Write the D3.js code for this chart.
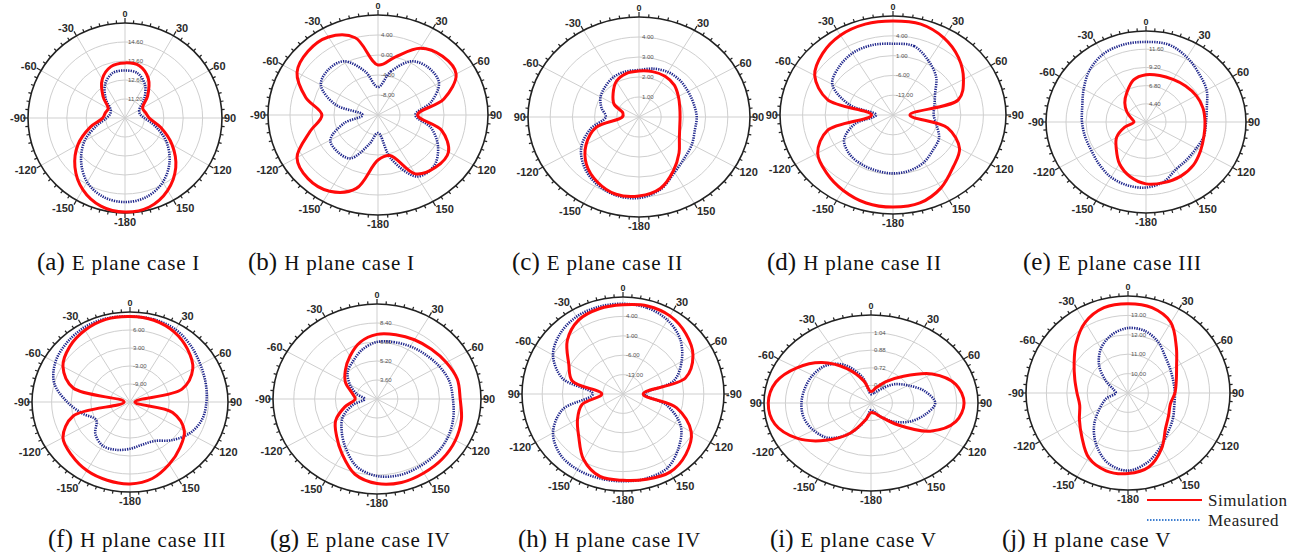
<!DOCTYPE html>
<html>
<head>
<meta charset="utf-8">
<script src="https://cdn.jsdelivr.net/npm/d3@7"></script>
<style>
  body { margin: 0; background: #fff; }
  .angle { font-family: "Liberation Sans", Arial, sans-serif; font-size: 11px; font-weight: bold; fill: #2a2a2a; }
  .ring { font-family: "Liberation Sans", Arial, sans-serif; font-size: 6px; fill: #555; }
  .caption { font-family: "Liberation Serif", "Times New Roman", serif; fill: #111; }
  .legend { font-family: "Liberation Serif", "Times New Roman", serif; font-size: 17px; letter-spacing: 0.5px; fill: #222; }
</style>
</head>
<body>
<div id="graphic"></div>
<script>
// angles of the samples, 0 at top, clockwise, every 15 deg
const angles = d3.range(0, 360, 15);

// normalised gain (fraction of outer ring)
const simA  = [.58,.57,.48,.33,.21,.22,.25,.38,.56,.74,.88,.97,.99,.96,.87,.73,.56,.37,.23,.21,.2,.32,.47,.56];
const measA = [.50,.49,.41,.28,.17,.16,.2,.32,.49,.65,.78,.86,.885,.86,.78,.64,.48,.3,.19,.16,.17,.28,.41,.49];
const simB  = [.5,.6,.77,.83,.82,.62,.36,.6,.74,.74,.68,.42,.45,.76,.88,.9,.85,.64,.51,.68,.85,.9,.9,.8];
const measB = [.28,.45,.62,.66,.64,.5,.34,.5,.63,.72,.71,.45,.18,.3,.5,.52,.5,.32,.14,.4,.6,.64,.62,.45];
const simC  = [.46,.47,.47,.45,.41,.38,.37,.38,.42,.51,.62,.74,.79,.8,.75,.67,.55,.4,.15,.15,.26,.33,.41,.45];
const measC = [.47,.5,.52,.52,.51,.51,.52,.52,.55,.58,.64,.75,.81,.81,.77,.7,.6,.45,.3,.35,.4,.43,.46,.47];
const simD  = [.95,.95,.9,.82,.72,.6,.15,.5,.68,.75,.85,.92,.93,.92,.88,.83,.77,.6,.19,.6,.8,.88,.93,.95];
const measD = [.72,.72,.63,.54,.43,.38,.36,.4,.47,.5,.55,.58,.59,.58,.57,.55,.5,.35,.15,.4,.62,.68,.72,.73];
const simE  = [.52,.53,.54,.56,.58,.59,.59,.6,.63,.67,.69,.69,.68,.62,.53,.42,.34,.22,.12,.15,.22,.3,.38,.48];
const measE = [.88,.88,.82,.75,.7,.63,.6,.6,.58,.58,.6,.68,.72,.72,.7,.66,.63,.63,.64,.66,.72,.8,.86,.88];
const simF  = [.95,.94,.9,.83,.74,.55,.05,.45,.64,.72,.8,.88,.91,.9,.88,.84,.79,.6,.06,.6,.79,.87,.92,.95];
const measF = [.95,.95,.93,.88,.83,.8,.78,.76,.7,.6,.5,.49,.52,.55,.56,.5,.4,.5,.64,.8,.88,.92,.95,.96];
const simG  = [.68,.7,.72,.74,.77,.8,.8,.84,.87,.89,.9,.91,.89,.82,.67,.55,.46,.32,.21,.25,.35,.43,.52,.62];
const measG = [.6,.62,.64,.66,.69,.72,.73,.76,.79,.81,.82,.83,.81,.74,.6,.48,.38,.24,.12,.2,.3,.4,.46,.54];
const simH  = [.92,.94,.93,.88,.8,.64,.2,.55,.78,.88,.93,.91,.89,.88,.78,.62,.52,.42,.21,.52,.62,.78,.88,.91];
const measH = [.93,.92,.88,.8,.67,.52,.22,.45,.66,.78,.88,.9,.9,.9,.9,.88,.8,.62,.3,.62,.8,.88,.92,.93];
const simI  = [.13,.18,.28,.43,.66,.82,.87,.82,.64,.35,.18,.12,.11,.2,.4,.6,.8,.93,.96,.92,.8,.65,.45,.26];
const measI = [.1,.12,.18,.3,.4,.52,.6,.52,.42,.3,.18,.1,.08,.2,.4,.56,.62,.65,.65,.64,.63,.6,.5,.3];
const simJ  = [.92,.91,.84,.67,.55,.49,.46,.43,.46,.52,.66,.79,.83,.83,.77,.64,.55,.49,.5,.54,.61,.72,.84,.91];
const measJ = [.67,.66,.6,.52,.48,.46,.46,.47,.51,.56,.64,.74,.8,.75,.62,.47,.32,.22,.12,.15,.25,.4,.53,.62];

// ring tick labels, outer ring first
const ringA = ["14.60","13.60","12.60","11.20"];
const ringB = ["4.00","0.00","-4.00","-8.00"];
const ringC = ["4.00","3.00","2.00","1.00"];
const ringD = ["4.00","1.00","-6.00","-13.00"];
const ringE = ["11.60","9.20","6.80","4.40"];
const ringF = ["6.00","3.00","-3.00","-9.00"];
const ringG = ["8.40","6.80","5.20","3.60"];
const ringH = ["4.00","1.00","-6.00","-13.00"];
const ringI = ["1.04","0.88","0.72","0.56"];
const ringJ = ["13.00","12.00","11.00","10.00"];

const captionLetters = ["(a)","(b)","(c)","(d)","(e)","(f)","(g)","(h)","(i)","(j)"];
const captionTexts = ["E plane case I","H plane case I","E plane case II","H plane case II","E plane case III",
  "H plane case III","E plane case IV","H plane case IV","E plane case V","H plane case V"];

const angleTicks = d3.range(0, 360, 30);
const ringSteps = [0.8, 0.6, 0.4, 0.2];
// side labels of the 90 deg axis, per panel (left, right)
const leftNinety  = ["-90","-90","90","90","-90","-90","-90","90","90","-90"];
const rightNinety = ["90","90","90","-90","90","90","90","-90","90","90"];

/** LAYOUT */
const width = 1299, height = 552;
// centre and radii of each panel on the page
const layout = [
  { cx: 125,  cy: 118, rx: 97,  ry: 95 },
  { cx: 378,  cy: 115, rx: 110, ry: 100 },
  { cx: 639,  cy: 117, rx: 111, ry: 100 },
  { cx: 893,  cy: 115, rx: 113, ry: 99 },
  { cx: 1146, cy: 122, rx: 100, ry: 91 },
  { cx: 130,  cy: 402, rx: 98,  ry: 90 },
  { cx: 377,  cy: 399, rx: 104, ry: 95 },
  { cx: 623,  cy: 394, rx: 101, ry: 97 },
  { cx: 871,  cy: 403, rx: 107, ry: 88 },
  { cx: 1128, cy: 393, rx: 102, ry: 97 }
];
const captionPos = [[37,270],[248,270],[512,270],[767,270],[1023,270],
  [48,547],[270,547],[518,547],[770,547],[1002,547]];

const sims = [simA, simB, simC, simD, simE, simF, simG, simH, simI, simJ];
const meas = [measA, measB, measC, measD, measE, measF, measG, measH, measI, measJ];
const rings = [ringA, ringB, ringC, ringD, ringE, ringF, ringG, ringH, ringI, ringJ];

var svg = d3.select("#graphic").append("svg")
  .attr("width", width)
  .attr("height", height);

const rad = a => a * Math.PI / 180;

layout.forEach((p, i) => {
  var g = svg.append("g").attr("transform", `translate(${p.cx},${p.cy})`);

  // separate radial scales for the slightly squashed panels
  var rX = d3.scaleLinear().domain([0, 1]).range([0, p.rx]);
  var rY = d3.scaleLinear().domain([0, 1]).range([0, p.ry]);

  // grid rings
  g.selectAll(".grid").data(ringSteps).enter().append("ellipse")
    .attr("rx", d => rX(d)).attr("ry", d => rY(d))
    .attr("fill", "none").attr("stroke", "#cfcfcf").attr("stroke-width", 1);

  // spokes
  g.selectAll(".spoke").data(angleTicks).enter().append("line")
    .attr("x1", 0).attr("y1", 0)
    .attr("x2", d => rX(1) * Math.sin(rad(d)))
    .attr("y2", d => -rY(1) * Math.cos(rad(d)))
    .attr("stroke", "#cfcfcf").attr("stroke-width", 1);

  // outer ring with small ticks
  g.append("ellipse").attr("rx", rX(1)).attr("ry", rY(1))
    .attr("fill", "none").attr("stroke", "#222").attr("stroke-width", 1.6);
  g.selectAll(".tick").data(d3.range(0, 360, 5)).enter().append("line")
    .attr("x1", d => rX(1) * Math.sin(rad(d)))
    .attr("y1", d => -rY(1) * Math.cos(rad(d)))
    .attr("x2", d => (rX(1) + (d % 30 ? 3 : 5)) * Math.sin(rad(d)))
    .attr("y2", d => -(rY(1) + (d % 30 ? 3 : 5)) * Math.cos(rad(d)))
    .attr("stroke", "#222").attr("stroke-width", 1.2);

  // angle labels, anchored away from the ring
  const side = d => Math.sin(rad(d));
  g.selectAll(".angle").data(angleTicks).enter().append("text")
    .attr("class", "angle")
    .attr("text-anchor", d => side(d) > 0.3 ? "start" : side(d) < -0.3 ? "end" : "middle")
    .attr("dominant-baseline", "central")
    .attr("x", d => (rX(1) + (d % 180 === 90 ? 2 : 5)) * Math.sin(rad(d)))
    .attr("y", d => -(rY(1) + 9) * Math.cos(rad(d)))
    .style("font-size", d => d === 0 ? "9px" : null)
    .text(d => {
      if (d === 270) return leftNinety[i];
      if (d === 90) return rightNinety[i];
      return d <= 150 ? d : d - 360;
    });

  // ring value labels along the 0 deg spoke
  g.selectAll(".ring").data(rings[i]).enter().append("text")
    .attr("class", "ring")
    .attr("x", 3)
    .attr("y", (d, k) => -rY(ringSteps[k]) + 2)
    .text(d => d);

  // pattern curves
  var line = d3.line()
    .x((d, k) => rX(d) * Math.sin(rad(angles[k])))
    .y((d, k) => -rY(d) * Math.cos(rad(angles[k])))
    .curve(d3.curveCatmullRomClosed.alpha(0.5));

  g.append("path").datum(meas[i])
    .attr("d", line)
    .attr("fill", "none")
    .attr("stroke", "#1f268c")
    .attr("stroke-width", 2.6)
    .attr("stroke-dasharray", "1.3,1.1");

  g.append("path").datum(sims[i])
    .attr("d", line)
    .attr("fill", "none")
    .attr("stroke", "#ff0a0a")
    .attr("stroke-width", 3);

  // caption
  var cap = svg.append("text").attr("class", "caption")
    .attr("x", captionPos[i][0]).attr("y", captionPos[i][1]);
  cap.append("tspan").style("font-size", "25px").text(captionLetters[i]);
  cap.append("tspan").style("font-size", "21px").style("letter-spacing", "0.8px")
    .attr("dx", 7).text(captionTexts[i]);
});

// legend
var legend = svg.append("g");
legend.append("line").attr("x1", 1147).attr("x2", 1202).attr("y1", 500).attr("y2", 500)
  .attr("stroke", "#ff0a0a").attr("stroke-width", 2);
legend.append("text").attr("class", "legend").attr("x", 1208).attr("y", 506).text("Simulation");
legend.append("line").attr("x1", 1147).attr("x2", 1200).attr("y1", 520).attr("y2", 520)
  .attr("stroke", "#3f7fd0").attr("stroke-width", 2.2).attr("stroke-dasharray", "1.5,1.5");
legend.append("text").attr("class", "legend").attr("x", 1208).attr("y", 526).text("Measured");
</script>
</body>
</html>
